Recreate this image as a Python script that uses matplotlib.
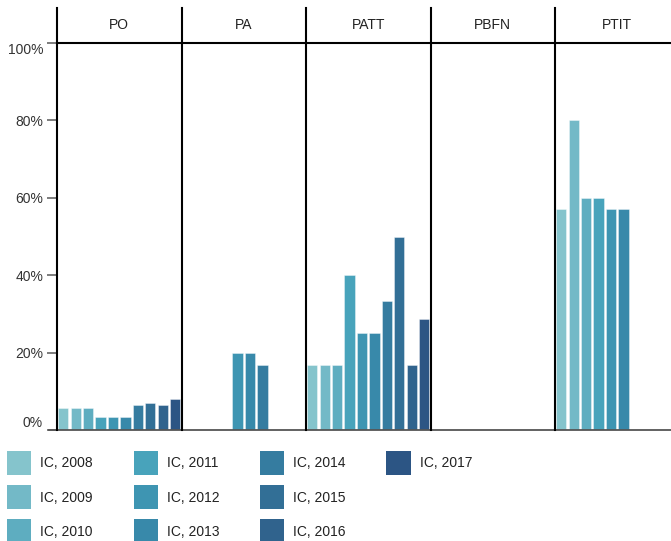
import matplotlib
matplotlib.use("Agg")
from matplotlib import pyplot as plt
from matplotlib.patches import Patch

plt.rcParams['font.family'] = ['Liberation Sans', 'DejaVu Sans']

## data
groups = ["PO", "PA", "PATT", "PBFN", "PTIT"]
years = [2008, 2009, 2010, 2011, 2012, 2013, 2014, 2015, 2016, 2017]
series_labels = ["IC, %d" % y for y in years]
colors = ["#85c4cc", "#73b9c7", "#5eadc0", "#48a3bb", "#3e95b2",
          "#3889aa", "#357ca0", "#326f96", "#30638d", "#2c5584"]

# percent per group, one entry per year (None = no bar)
po_vals = [5.6, 5.6, 5.6, 3.3, 3.3, 3.3, 6.5, 7.0, 6.5, 7.9]
pa_vals = [None, None, None, None, 20.0, 20.0, 16.7, None, None, None]
patt_vals = [16.7, 16.7, 16.7, 40.0, 25.0, 25.0, 33.3, 50.0, 16.7, 28.6]
pbfn_vals = [None] * 10
ptit_vals = [57.1, 80.0, 60.0, 60.0, 57.1, 57.1, None, None, None, None]
all_vals = [po_vals, pa_vals, patt_vals, pbfn_vals, ptit_vals]

yticks = [0, 20, 40, 60, 80, 100]
ytick_labels = ["0%", "20%", "40%", "60%", "80%", "100%"]

W, H = 671, 541
fig = plt.figure(figsize=(W / 100, H / 100), dpi=100)

# axes box in pixels: x 57..679.5, y 43..430 (from top)
ax_left, ax_right = 57, 57 + 5 * 124.5
ax_top, ax_bot = 43, 430
ax = fig.add_axes([ax_left / W, 1 - ax_bot / H, (ax_right - ax_left) / W, (ax_bot - ax_top) / H])

n = len(years)
slot = 1.0 / n
for g, vals in enumerate(all_vals):
    for j, v in enumerate(vals):
        if v is None:
            continue
        ax.bar(g + (j + 0.5) * slot, v, width=slot * 0.82, color=colors[j],
               edgecolor=(1, 1, 1, 0.45), linewidth=0.6, zorder=2)

ax.set_xlim(0, len(groups))
ax.set_ylim(0, 100)
ax.set_xticks([])
ax.set_yticks(yticks)
ax.set_yticklabels(ytick_labels, fontsize=10, color="#333333")
ax.tick_params(axis="y", length=7, width=1.2, color="#666666", pad=3)
# end labels are nudged inside the plot range
tl = ax.get_yticklabels()
tl[0].set_verticalalignment("bottom")
tl[-1].set_verticalalignment("top")

for s in ["top", "right", "bottom", "left"]:
    ax.spines[s].set_visible(False)

# header height in axes units
hdr_top = (ax_bot - 8) / (ax_bot - ax_top)
hdr_mid = (ax_bot - 25) / (ax_bot - ax_top)

# gray baseline, reaching left under the tick marks
ax.plot([-8 / 124.5, len(groups)], [0, 0], color="#555555", lw=1.3, clip_on=False, zorder=3)
# black header line
ax.plot([0, len(groups)], [100, 100], color="black", lw=1.5, clip_on=False, zorder=3)

for g in range(len(groups)):
    ax.plot([g, g], [0, hdr_top * 100], color="black", lw=1.5, clip_on=False, zorder=3)
    ax.text(g + 0.5, hdr_mid * 100, groups[g], ha="center", va="center",
            fontsize=10, color="#222222", clip_on=False)

# legend fills columns of three; pad the last column with blanks
handles = [Patch(facecolor=c, edgecolor="none") for c in colors]
labels = list(series_labels)
blank = Patch(facecolor="none", edgecolor="none")
handles += [blank, blank]
labels += ["", ""]
fig.legend(handles, labels, loc="upper left", ncol=4,
           bbox_to_anchor=(7 / W, 1 - 451 / H), frameon=False,
           fontsize=10, handlelength=1.75, handleheight=2.3,
           handletextpad=0.65, columnspacing=2.92, labelspacing=0.72,
           borderpad=0, borderaxespad=0, labelcolor="#222222")

fig.savefig("out.png", dpi=100)
